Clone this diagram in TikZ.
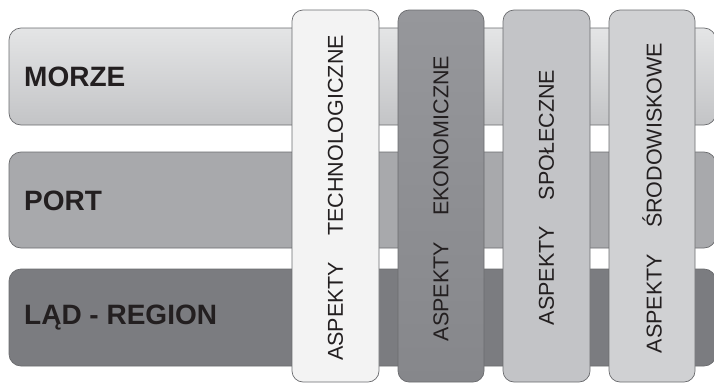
\documentclass[tikz,border=0pt]{standalone}
\usepackage{fontspec}
\setmainfont{Liberation Sans}
\usetikzlibrary{positioning}
\definecolor{txt}{HTML}{231F20}
\definecolor{edge}{HTML}{6A6B6E}
\definecolor{morzeT}{HTML}{E4E5E6}
\definecolor{morzeB}{HTML}{C3C4C6}
\definecolor{portC}{HTML}{A8A9AC}
\definecolor{ladC}{HTML}{7B7C80}
\definecolor{colA}{HTML}{F3F3F3}
\definecolor{colBT}{HTML}{96979B}
\definecolor{colBB}{HTML}{86878B}
\definecolor{colC}{HTML}{C3C4C7}
\definecolor{colD}{HTML}{D0D1D3}
\tikzset{
  rowbar/.style={draw=edge, line width=0.7pt, rounded corners=12pt},
  colbar/.style={draw=edge, line width=0.7pt, rounded corners=11pt},
  rowlabel/.style={anchor=west, text=txt, font=\fontsize{28}{30}\selectfont\bfseries, inner sep=0pt},
  collabel/.style={rotate=90, text=txt, font=\fontsize{21.5}{24}\selectfont, inner sep=0pt}
}
\begin{document}
\begin{tikzpicture}[x=1pt,y=-1pt]
\useasboundingbox (0,0) rectangle (714,383);
% horizontal bars
\path[rowbar, top color=morzeT, bottom color=morzeB] (9,28) rectangle (716,125);
\path[rowbar, fill=portC] (9,152) rectangle (716,248);
\path[rowbar, fill=ladC] (9,269) rectangle (716,366);
\node[rowlabel] (morze) at (24,77) {MORZE};
\node[rowlabel] (port) at (24,201) {PORT};
\node[rowlabel] (lad) at (24,318) {LĄD - REGION};
% vertical bars
\path[colbar, fill=colA] (292,10) rectangle (379,382);
\path[colbar, top color=colBT, bottom color=colBB] (398,10) rectangle (484,382);
\path[colbar, fill=colC] (503,10) rectangle (590,382);
\path[colbar, fill=colD] (609,10) rectangle (695,382);
\node[collabel] (tech) at (335.5,198) {ASPEKTY\hspace{26pt}TECHNOLOGICZNE};
\node[collabel] (eko) at (441,198.5) {ASPEKTY\hspace{26pt}EKONOMICZNE};
\node[collabel] (spo) at (546.5,197.5) {ASPEKTY\hspace{26pt}SPOŁECZNE};
\node[collabel] (sro) at (652,198) {ASPEKTY\hspace{26pt}ŚRODOWISKOWE};
\end{tikzpicture}
\end{document}
